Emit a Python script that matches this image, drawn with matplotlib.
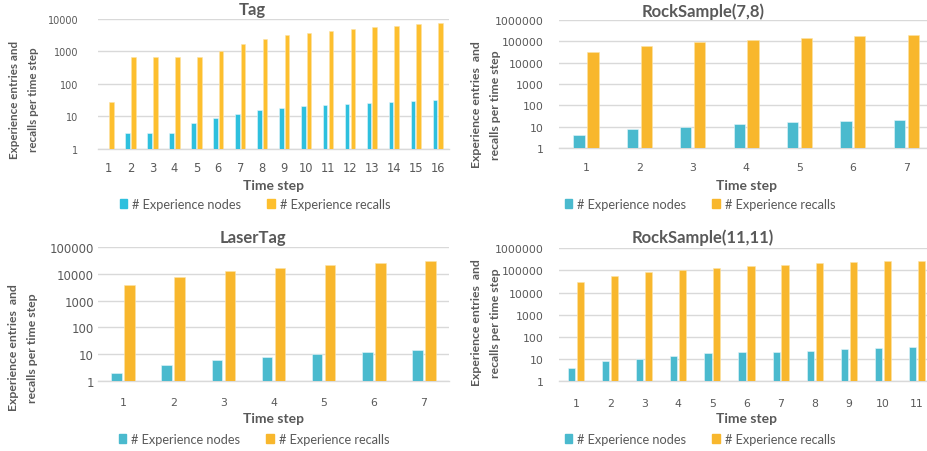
import matplotlib
matplotlib.use('Agg')
import matplotlib.pyplot as plt
from matplotlib.patches import Patch
import numpy as np

W, H = 928, 452

tag_steps = list(range(1, 17))
tag_nodes = [1, 3, 3, 3, 6, 9, 12, 15, 18, 20, 22, 24, 26, 28, 30, 32]
tag_recalls = [27, 650, 650, 650, 650, 1050, 1750, 2400, 3100, 3700,
               4300, 5000, 5700, 6300, 6900, 7500]

rs78_steps = list(range(1, 8))
rs78_nodes = [4, 8, 10, 13, 16, 19, 21]
rs78_recalls = [32000, 60000, 88000, 115000, 145000, 170000, 200000]

laser_steps = list(range(1, 8))
laser_nodes = [2, 4, 6, 8, 10, 12, 14]
laser_recalls = [3800, 7600, 12500, 16500, 21000, 26000, 30000]

rs1111_steps = list(range(1, 12))
rs1111_nodes = [4, 8, 10, 14, 18, 20, 22, 24, 28, 32, 34]
rs1111_recalls = [30000, 57000, 85000, 110000, 135000, 160000, 185000,
                  210000, 235000, 255000, 280000]

GRAY = '#595959'
GRID = '#D9D9D9'
LABEL_FONT = ['Lato', 'DejaVu Sans']
TICK_FONT = ['DejaVu Sans']


def fx(px):
    return px / W


def fy(py):
    return 1 - py / H


def panel(fig, box, title, steps, nodes, recalls, ymax, blue, orange,
          title_xy, ylab, ylab_xy, ylab_size, xlab_y, leg_xy, ytick_size,
          ytick_pad, xtick_size, xtick_pad):
    x0, y0, x1, y1 = box
    ax = fig.add_axes([fx(x0), fy(y1), fx(x1 - x0), (y1 - y0) / H])
    ax.set_yscale('log')
    x = np.arange(len(steps))
    w, g = 0.21, 0.05
    ax.bar(x - g / 2 - w / 2, nodes, w, color=blue, edgecolor='#E6F6FA',
           linewidth=0.4, zorder=3)
    ax.bar(x + g / 2 + w / 2, recalls, w, color=orange, edgecolor='#FCE3A6',
           linewidth=0.4, zorder=3)
    ax.set_xlim(-0.5, len(steps) - 0.5)
    ax.set_ylim(1, ymax)
    ticks = [10 ** k for k in range(int(np.log10(ymax)) + 1)]
    ax.set_yticks(ticks)
    ax.set_yticklabels([str(t) for t in ticks], fontsize=ytick_size,
                       color=GRAY, family=TICK_FONT)
    ax.yaxis.set_minor_locator(matplotlib.ticker.NullLocator())
    ax.set_xticks(x)
    ax.set_xticklabels([str(s) for s in steps], fontsize=xtick_size,
                       color=GRAY, family=TICK_FONT)
    ax.tick_params(axis='y', length=0, pad=ytick_pad)
    ax.tick_params(axis='x', length=0, pad=xtick_pad)
    ax.grid(axis='y', color=GRID, linewidth=1, zorder=0)
    for s in ['top', 'right', 'left']:
        ax.spines[s].set_visible(False)
    ax.spines['bottom'].set_color(GRID)
    ax.spines['bottom'].set_linewidth(1)

    fig.text(fx(title_xy[0]), fy(title_xy[1]), title, ha='center',
             va='center', fontsize=12, fontweight='bold', color=GRAY,
             family=LABEL_FONT)
    fig.text(fx(ylab_xy[0]), fy(ylab_xy[1]), ylab, ha='center',
             va='center', rotation=90, fontsize=ylab_size, fontweight='bold',
             color=GRAY, family=LABEL_FONT, linespacing=1.85,
             multialignment='center')
    fig.text(fx((x0 + x1) / 2), fy(xlab_y), 'Time step', ha='center',
             va='center', fontsize=10, fontweight='bold', color=GRAY,
             family=LABEL_FONT)
    handles = [Patch(color=blue, label='# Experience nodes'),
               Patch(color=orange, label='# Experience recalls')]
    fig.legend(handles=handles, loc='center',
               bbox_to_anchor=(fx(leg_xy[0]), fy(leg_xy[1])), ncol=2,
               frameon=False, handlelength=0.6, handleheight=0.6,
               handletextpad=0.4, columnspacing=2.0,
               prop={'family': LABEL_FONT, 'size': 9.2},
               labelcolor=GRAY)
    return ax


fig = plt.figure(figsize=(W / 100, H / 100), dpi=100)

panel(fig, (97.6, 20, 448.7, 149.6), 'Tag', tag_steps, tag_nodes,
      tag_recalls, 10000, '#2EC0DE', '#FDBF2E', (252, 10),
      'Experience entries and\nrecalls per time step', (24, 100), 8.4, 186,
      (255, 205), 7, 14, 8.3, 9)

panel(fig, (559.3, 20.7, 933, 149.3), 'RockSample(7,8)', rs78_steps,
      rs78_nodes, rs78_recalls, 1000000, '#4ABACE', '#F8B72D', (703, 12),
      'Experience entries  and\nrecalls per time step', (486, 105), 8.8, 186,
      (700, 205), 7.8, 11, 7.8, 10)

panel(fig, (98, 248.3, 449, 381.7), 'LaserTag', laser_steps, laser_nodes,
      laser_recalls, 100000, '#4ABACE', '#F8B72D', (253, 238),
      'Experience entries  and\nrecalls per time step', (23, 348), 8.8, 419,
      (254, 440), 8.5, 3, 7.8, 12)

panel(fig, (559, 249.3, 934, 382.3), 'RockSample(11,11)', rs1111_steps,
      rs1111_nodes, rs1111_recalls, 1000000, '#4ABACE', '#F8B72D', (703, 238),
      'Experience entries  and\nrecalls per time step', (486, 323), 8.8, 419,
      (700, 440), 7.8, 11, 7.8, 12)

fig.savefig('out.png', dpi=100)
